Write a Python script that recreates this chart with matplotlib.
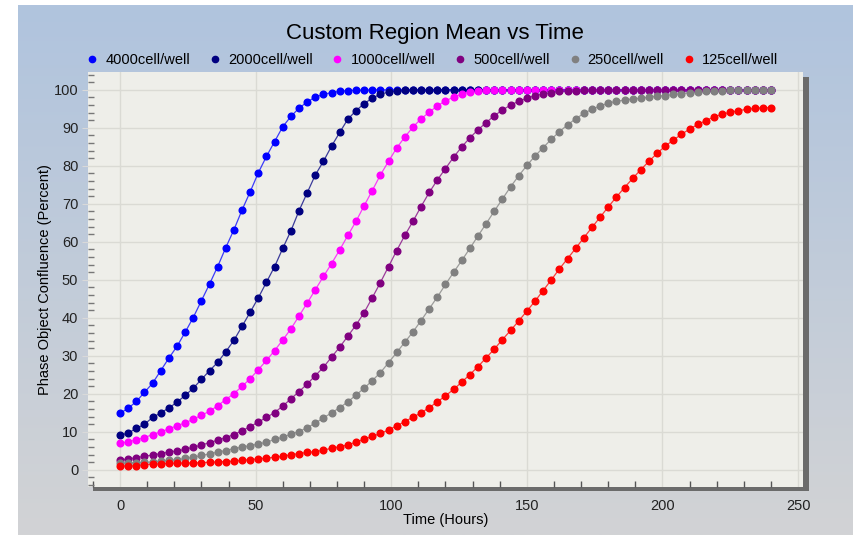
import matplotlib
matplotlib.use('agg')
import matplotlib.pyplot as plt
import numpy as np
from matplotlib.lines import Line2D
from matplotlib.patches import Rectangle
from matplotlib.ticker import MultipleLocator

plt.rcParams['font.family'] = ['Liberation Sans', 'DejaVu Sans']

# data, one reading every 3 hours
hours = list(range(0, 241, 3))

labels = ["4000cell/well", "2000cell/well", "1000cell/well",
          "500cell/well", "250cell/well", "125cell/well"]
colors = ["#0000FF", "#000080", "#FF00FF", "#800080", "#808080", "#FF0000"]

c4000 = [14.9, 16.2, 18.0, 20.4, 22.8, 26.1, 29.4, 32.5, 36.2, 40.1,
         44.5, 48.9, 53.5, 58.5, 63.2, 68.4, 73.2, 78.2, 82.5, 86.4,
         90.3, 93.0, 95.2, 96.8, 98.1, 98.8, 99.3, 99.6, 99.8, 99.9,
         99.9, 100.0, 100.0, 100.0, 100.0, 100.0, 100.0, 100.0, 100.0, 100.0,
         100.0, 100.0, 100.0, 100.0, 100.0, 100.0, 100.0, 100.0, 100.0, 100.0,
         100.0, 100.0, 100.0, 100.0, 100.0, 100.0, 100.0, 100.0, 100.0, 100.0,
         100.0, 100.0, 100.0, 100.0, 100.0, 100.0, 100.0, 100.0, 100.0, 100.0,
         100.0, 100.0, 100.0, 100.0, 100.0, 100.0, 100.0, 100.0, 100.0, 100.0,
         100.0]

c2000 = [9.1, 9.7, 10.9, 12.0, 13.8, 15.0, 16.3, 17.8, 19.6, 21.5,
         23.8, 26.1, 28.3, 31.1, 34.1, 37.8, 41.5, 45.3, 49.4, 53.5,
         58.3, 62.9, 68.2, 72.9, 77.6, 81.2, 85.2, 88.8, 92.3, 94.5,
         96.4, 97.8, 98.9, 99.4, 99.7, 99.9, 99.9, 100.0, 100.0, 100.0,
         100.0, 100.0, 100.0, 100.0, 100.0, 100.0, 100.0, 100.0, 100.0, 100.0,
         100.0, 100.0, 100.0, 100.0, 100.0, 100.0, 100.0, 100.0, 100.0, 100.0,
         100.0, 100.0, 100.0, 100.0, 100.0, 100.0, 100.0, 100.0, 100.0, 100.0,
         100.0, 100.0, 100.0, 100.0, 100.0, 100.0, 100.0, 100.0, 100.0, 100.0,
         100.0]

c1000 = [7.0, 7.4, 7.9, 8.5, 9.3, 10.0, 10.8, 11.6, 12.4, 13.3,
         14.4, 15.4, 16.9, 18.5, 20.1, 22.0, 24.0, 26.4, 28.8, 31.4,
         34.2, 37.1, 40.5, 43.9, 47.4, 50.9, 54.3, 57.9, 61.7, 65.4,
         69.5, 73.5, 77.6, 81.2, 84.7, 87.6, 90.2, 92.4, 94.1, 95.8,
         97.1, 98.1, 98.9, 99.4, 99.7, 99.9, 99.9, 100.0, 100.0, 100.0,
         100.0, 100.0, 100.0, 100.0, 100.0, 100.0, 100.0, 100.0, 100.0, 100.0,
         100.0, 100.0, 100.0, 100.0, 100.0, 100.0, 100.0, 100.0, 100.0, 100.0,
         100.0, 100.0, 100.0, 100.0, 100.0, 100.0, 100.0, 100.0, 100.0, 100.0,
         100.0]

c500 = [2.6, 2.9, 3.2, 3.6, 3.9, 4.3, 4.7, 5.0, 5.4, 6.0,
        6.5, 7.2, 7.8, 8.5, 9.3, 10.3, 11.4, 12.6, 13.8, 15.1,
        16.8, 18.7, 20.6, 22.6, 24.8, 27.0, 29.7, 32.3, 35.2, 38.1,
        41.4, 45.3, 49.3, 53.5, 57.7, 61.7, 65.4, 69.3, 73.0, 76.3,
        79.3, 82.3, 85.0, 87.4, 89.5, 91.4, 93.2, 94.7, 96.0, 97.0,
        97.8, 98.5, 98.9, 99.3, 99.6, 99.7, 99.8, 99.9, 99.9, 100.0,
        100.0, 100.0, 100.0, 100.0, 100.0, 100.0, 100.0, 100.0, 100.0, 100.0,
        100.0, 100.0, 100.0, 100.0, 100.0, 100.0, 100.0, 100.0, 100.0, 100.0,
        100.0]

c250 = [1.8, 1.8, 1.9, 2.0, 2.1, 2.3, 2.5, 2.7, 3.0, 3.3,
        3.8, 4.2, 4.7, 5.1, 5.6, 6.0, 6.4, 6.8, 7.3, 8.0,
        8.6, 9.4, 10.1, 11.1, 12.3, 13.7, 15.0, 16.4, 17.9, 19.7,
        21.5, 23.5, 25.6, 28.2, 30.9, 33.6, 36.3, 39.3, 42.4, 45.5,
        48.8, 52.0, 55.1, 58.3, 61.6, 64.8, 68.1, 71.3, 74.5, 77.4,
        80.1, 82.6, 84.8, 87.0, 89.0, 90.8, 92.4, 93.8, 94.9, 95.8,
        96.5, 97.0, 97.3, 97.6, 97.8, 98.1, 98.3, 98.5, 98.8, 99.0,
        99.2, 99.4, 99.6, 99.7, 99.8, 99.9, 100.0, 100.0, 100.0, 100.0,
        100.0]

c125 = [1.1, 1.0, 1.1, 1.4, 1.5, 1.6, 1.7, 1.8, 1.8, 1.8,
        1.9, 2.0, 2.1, 2.2, 2.3, 2.5, 2.7, 2.9, 3.1, 3.3,
        3.6, 4.0, 4.3, 4.6, 4.8, 5.2, 5.7, 6.1, 6.6, 7.3,
        8.1, 8.8, 9.6, 10.5, 11.6, 12.7, 13.9, 15.0, 16.4, 17.9,
        19.5, 21.2, 23.1, 25.1, 27.2, 29.5, 31.8, 34.3, 36.7, 39.2,
        41.8, 44.4, 47.2, 50.0, 52.9, 55.6, 58.3, 61.1, 63.8, 66.5,
        69.2, 71.8, 74.3, 76.7, 79.0, 81.2, 83.3, 85.2, 86.8, 88.3,
        89.7, 90.9, 91.9, 92.9, 93.6, 94.1, 94.5, 94.9, 95.1, 95.3,
        95.3]

series = [c4000, c2000, c1000, c500, c250, c125]

W, H = 854, 535
fig = plt.figure(figsize=(W / 100.0, H / 100.0), dpi=100)
fig.patch.set_facecolor('white')

def fx(px):
    return px / float(W)

def fy(py):
    return 1 - py / float(H)

# blue-to-gray backdrop
bg = fig.add_axes([fx(18), 0, 1 - fx(18), fy(5)], zorder=-3)
top = np.array([176, 196, 222]) / 255.0
bot = np.array([210, 211, 213]) / 255.0
frac = np.linspace(0, 1, 256)[:, None]
grad = (top[None, :] * (1 - frac) + bot[None, :] * frac)[:, None, :]
bg.imshow(grad, aspect='auto', extent=[0, 1, 0, 1])
bg.axis('off')

# drop shadow behind plot area
fig.patches.append(Rectangle((fx(93), fy(491)), fx(809) - fx(93), fy(77) - fy(491),
                             transform=fig.transFigure, facecolor='#6b6b6b',
                             edgecolor='none', zorder=-2))

ax = fig.add_axes([fx(88), fy(487), fx(803) - fx(88), fy(72) - fy(487)], zorder=1)
ax.set_facecolor('#EEEEE9')
for s in ax.spines.values():
    s.set_visible(False)

for vals, col, lab in zip(series, colors, labels):
    ax.plot(hours, vals, color=col, lw=0.9, alpha=0.75, zorder=3)
    ax.plot(hours, vals, linestyle='none', marker='o', ms=4.8,
            color=col, mec=col, zorder=4, label=lab)

ax.set_xlim(-11.8, 251.8)
ax.set_ylim(-4.5, 104.7)
ax.xaxis.set_major_locator(MultipleLocator(50))
ax.xaxis.set_minor_locator(MultipleLocator(10))
ax.yaxis.set_major_locator(MultipleLocator(10))
ax.yaxis.set_minor_locator(MultipleLocator(2))
ax.grid(True, which='major', color='#DADAD4', lw=1, zorder=0)
ax.set_axisbelow(True)

ax.tick_params(axis='x', which='major', length=0, pad=9, labelsize=10.5, labelcolor='#222222')
ax.tick_params(axis='y', which='major', length=4, color='#d9d9d9', pad=3,
               labelsize=10.5, labelcolor='#222222')
ax.tick_params(axis='x', which='minor', direction='in', length=4, width=1, color='#555555')
ax.tick_params(axis='y', which='minor', direction='in', length=4, width=1, color='#777777')

ax.set_xlabel('Time (Hours)', fontsize=10.5)
ax.xaxis.set_label_coords(0.5, -0.062)
ax.set_ylabel('Phase Object Confluence (Percent)', fontsize=10.5)
ax.yaxis.set_label_coords(-0.050, 0.5)

fig.text(fx(435), fy(34), 'Custom Region Mean vs Time', fontsize=16,
         ha='center', va='center')

handles = [Line2D([], [], linestyle='none', marker='o', ms=4.5, color=c) for c in colors]
fig.legend(handles, labels, loc='center', bbox_to_anchor=(fx(433), fy(60)),
           ncol=6, frameon=False, fontsize=10.5, handlelength=0.6,
           handletextpad=0.6, columnspacing=1.4, borderaxespad=0)

plt.savefig('out.png', dpi=100)
plt.close(fig)
